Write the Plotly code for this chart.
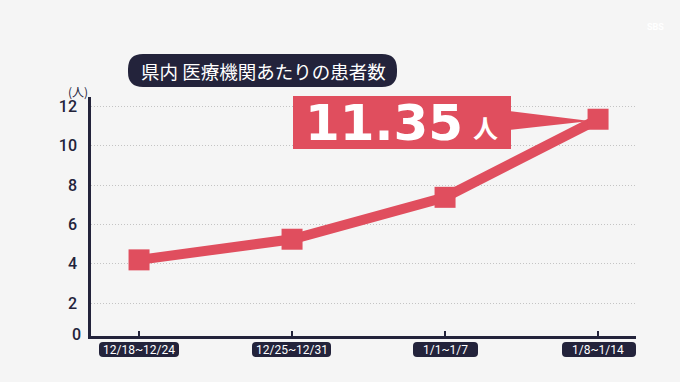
import plotly.graph_objects as go

categories = ["12/18~12/24", "12/25~12/31", "1/1~1/7", "1/8~1/14"]
patients = [4.2, 5.25, 7.38, 11.35]
y_ticks = [2, 4, 6, 8, 10, 12]
title_text = "県内 医療機関あたりの患者数"
unit_text = "(人)"
callout_value = "11.35"
callout_unit = "人"

W, H = 680, 382
L, R, T, B = 91, 636, 97, 336
NAVY = "#23233b"
RED = "#e04e5e"
BG = "#f5f5f5"

def px(x):
    return (x - L) / (R - L)

def py(y):
    return (B - y) / (B - T)

def rounded_rect(x0, y0, x1, y1, r):
    pts = [
        f"M {px(x0 + r)} {py(y0)}",
        f"L {px(x1 - r)} {py(y0)}",
        f"Q {px(x1)} {py(y0)} {px(x1)} {py(y0 + r)}",
        f"L {px(x1)} {py(y1 - r)}",
        f"Q {px(x1)} {py(y1)} {px(x1 - r)} {py(y1)}",
        f"L {px(x0 + r)} {py(y1)}",
        f"Q {px(x0)} {py(y1)} {px(x0)} {py(y1 - r)}",
        f"L {px(x0)} {py(y0 + r)}",
        f"Q {px(x0)} {py(y0)} {px(x0 + r)} {py(y0)}",
        "Z",
    ]
    return " ".join(pts)

fig = go.Figure()
fig.add_trace(go.Scatter(
    x=categories, y=patients, mode="lines+markers",
    line=dict(color=RED, width=10),
    marker=dict(symbol="square", size=21, color=RED, line=dict(width=0)),
    hoverinfo="skip", showlegend=False,
))

shapes = []
# title pill
shapes.append(dict(type="path", xref="paper", yref="paper",
                   path=rounded_rect(128, 54, 397, 87, 15),
                   fillcolor=NAVY, line=dict(width=0), layer="above"))
# x tick label pills
label_boxes = [(99, 179), (252, 331), (413, 478), (562, 636)]
for x0, x1 in label_boxes:
    shapes.append(dict(type="path", xref="paper", yref="paper",
                       path=rounded_rect(x0, 342, x1, 357, 4),
                       fillcolor=NAVY, line=dict(width=0), layer="below"))
# callout box
shapes.append(dict(type="rect", xref="paper", yref="paper",
                   x0=px(293), x1=px(511), y0=py(149), y1=py(96),
                   fillcolor=RED, line=dict(width=0), layer="above"))
shapes.append(dict(type="path", xref="paper", yref="paper",
                   path=f"M {px(509)} {py(111)} L {px(590)} {py(121)} L {px(509)} {py(130)} Z",
                   fillcolor=RED, line=dict(width=0), layer="above"))

annotations = []
annotations.append(dict(text=title_text, xref="paper", yref="paper",
                        x=px(263), y=py(70.5), xanchor="center", yanchor="middle",
                        showarrow=False,
                        font=dict(family="Noto Sans CJK JP", size=18.5, color="white")))
annotations.append(dict(text=unit_text, xref="paper", yref="paper",
                        x=px(78), y=py(91), xanchor="center", yanchor="middle",
                        showarrow=False,
                        font=dict(family="Noto Sans CJK JP", size=12, color=NAVY)))
annotations.append(dict(text="0", xref="paper", yref="paper",
                        x=px(83), y=py(334), xanchor="right", yanchor="middle",
                        showarrow=False,
                        font=dict(family="Roboto", size=16, color=NAVY, weight=500)))
annotations.append(dict(text=callout_value, xref="paper", yref="paper",
                        x=px(384), y=py(123), xanchor="center", yanchor="middle",
                        showarrow=False,
                        font=dict(family="DejaVu Sans", size=50, color="white", weight="bold")))
annotations.append(dict(text=callout_unit, xref="paper", yref="paper",
                        x=px(485), y=py(127), xanchor="center", yanchor="middle",
                        showarrow=False,
                        font=dict(family="Noto Sans CJK JP", size=25, color="white", weight="bold")))
for c in categories:
    annotations.append(dict(text=c, xref="x", yref="paper",
                            x=c, y=py(349.5), xanchor="center", yanchor="middle",
                            showarrow=False,
                            font=dict(family="Roboto", size=12, color="white")))
annotations.append(dict(text="SBS", xref="paper", yref="paper",
                        x=px(655), y=py(27), xanchor="center", yanchor="middle",
                        showarrow=False,
                        font=dict(family="Roboto", size=9, color="white", weight="bold")))

fig.update_layout(
    width=W, height=H,
    margin=dict(l=L, r=W - R, t=T, b=H - B),
    paper_bgcolor=BG, plot_bgcolor=BG,
    shapes=shapes, annotations=annotations,
    xaxis=dict(type="category", range=[-0.314, 3.248],
               showgrid=False, zeroline=False,
               showline=True, linecolor=NAVY, linewidth=2.5,
               ticks="inside", ticklen=5, tickwidth=1.5, tickcolor=NAVY,
               showticklabels=False),
    yaxis=dict(range=[0.33, 12.48], tickvals=y_ticks,
               showgrid=True, gridcolor="#c4c4c4", griddash="1px,2px", gridwidth=1,
               zeroline=False,
               showline=True, linecolor=NAVY, linewidth=2.5,
               ticks="", ticklabelstandoff=8,
               tickfont=dict(family="Roboto", size=16, color=NAVY, weight=500)),
)

fig.write_html("out.html", config={"displayModeBar": False},
               post_script="document.body.style.margin='0';")
